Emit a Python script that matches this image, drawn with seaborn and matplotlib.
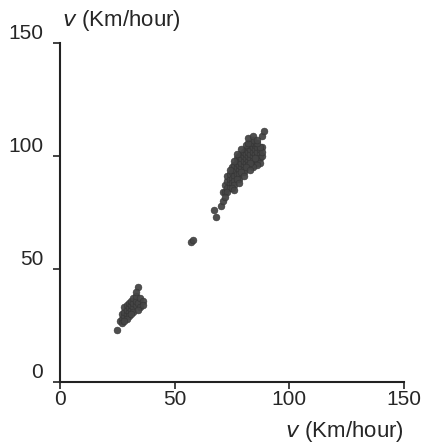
import pandas as pd
import matplotlib
matplotlib.use("Agg")
import matplotlib.pyplot as plt
import seaborn as sb

#%% Dados (velocidade x velocidade, Km/hour)
slow_x = [25, 26, 27, 27, 28, 28, 28, 29, 29, 29, 30, 30, 30, 31, 31, 31,
          32, 32, 32, 33, 33, 33, 34, 34, 35, 36, 35, 30, 32, 29, 27, 31,
          34, 36, 28, 33]
slow_y = [23, 27, 28, 30, 29, 31, 33, 30, 32, 34, 31, 33, 35, 32, 34, 36,
          33, 35, 37, 34, 36, 38, 35, 42, 37, 36, 33, 29, 31, 28, 26, 30,
          32, 34, 27, 40]

mid_x = [57, 58, 67, 68, 70, 71, 71]
mid_y = [62, 63, 76, 73, 78, 80, 84]

fast_x = [72, 72, 73, 73, 73, 74, 74, 74, 74, 75, 75, 75, 75, 76, 76, 76,
          76, 77, 77, 77, 77, 78, 78, 78, 78, 78, 79, 79, 79, 79, 80, 80,
          80, 80, 80, 81, 81, 81, 81, 82, 82, 82, 82, 82, 83, 83, 83, 83,
          84, 84, 84, 84, 85, 85, 85, 86, 86, 86, 87, 87, 88, 88, 89, 85,
          83, 81, 79, 77, 76, 74, 73, 72, 86, 87, 84, 80, 78,
          86, 87, 88, 88, 87, 86, 84, 82, 85, 86, 84, 83, 81, 79, 77, 76,
          75, 82, 84, 86, 83, 80, 78, 76]
fast_y = [84, 87, 86, 89, 91, 88, 90, 92, 86, 90, 93, 95, 88, 91, 94, 96,
          89, 92, 95, 97, 99, 94, 96, 98, 100, 92, 95, 97, 99, 101, 96, 98,
          100, 102, 94, 97, 99, 101, 103, 98, 100, 102, 104, 96, 99, 101, 103, 105,
          100, 102, 104, 98, 101, 103, 105, 100, 102, 104, 101, 99, 104, 109, 111, 106,
          106, 105, 103, 101, 98, 94, 84, 82, 97, 103, 96, 93, 90,
          98, 97, 100, 102, 104, 106, 107, 106, 99, 96, 95, 97, 95, 93, 90, 87,
          86, 108, 109, 107, 94, 91, 88, 85]

#%% Montando a tabela
df = pd.DataFrame({
    "x": slow_x + mid_x + fast_x,
    "y": slow_y + mid_y + fast_y,
})

#%% Grafico
sb.set_style("ticks")
plt.rcParams["font.family"] = ["Liberation Sans", "DejaVu Sans"]

fig = plt.figure(figsize=(4.27, 4.45), dpi=100)
ax = fig.add_axes([0.1405, 0.1416, 0.806, 0.7614])

sb.scatterplot(data=df, x="x", y="y", ax=ax, s=24, color="#454545",
               edgecolor="#333333", linewidth=0.4, alpha=0.95)

ax.set_xlim(0, 150)
ax.set_ylim(0, 150)
ax.set_xticks([0, 50, 100, 150])
ax.set_yticks([0, 50, 100, 150])
ax.tick_params(labelsize=15, length=5, width=1.2, color="#222222")
ax.tick_params(axis="y", pad=7)
ax.tick_params(axis="x", pad=1)
for lab in ax.get_yticklabels():
    lab.set_verticalalignment("bottom")
ax.set_xlabel("")
ax.set_ylabel("")

for s in ["left", "bottom"]:
    ax.spines[s].set_linewidth(1.5)
    ax.spines[s].set_color("#222222")
sb.despine(ax=ax)

ax.text(0.005, 1.03, "$v$ (Km/hour)", transform=ax.transAxes,
        fontsize=16, ha="left", va="bottom")
ax.text(1.0, -0.11, "$v$ (Km/hour)", transform=ax.transAxes,
        fontsize=16, ha="right", va="top")

fig.savefig("out.png", dpi=100)
